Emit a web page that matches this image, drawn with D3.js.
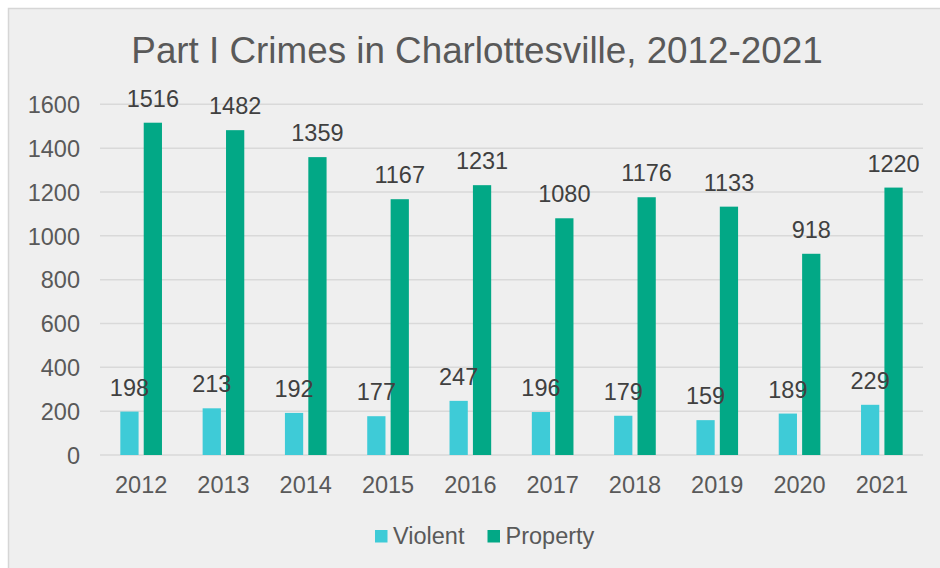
<!DOCTYPE html>
<html>
<head>
<meta charset="utf-8">
<script src="https://cdn.jsdelivr.net/npm/d3@7"></script>
<style>
  html, body { margin: 0; padding: 0; background: #ffffff; }
  svg { display: block; font-family: "Liberation Sans", Arial, sans-serif; }
</style>
</head>
<body>
<svg id="chart" width="940" height="568"></svg>
<script>
// Part I crimes reported in Charlottesville by year
const years = ["2012", "2013", "2014", "2015", "2016", "2017", "2018", "2019", "2020", "2021"];
const violent = [198, 213, 192, 177, 247, 196, 179, 159, 189, 229];
const property = [1516, 1482, 1359, 1167, 1231, 1080, 1176, 1133, 918, 1220];
const seriesNames = ["Violent", "Property"];
const seriesColors = ["#3ecbd7", "#02a886"];
const yTicks = [0, 200, 400, 600, 800, 1000, 1200, 1400, 1600];

const rows = years.map((y, i) => ({ year: y, values: [violent[i], property[i]] }));

const svg = d3.select("#chart");
const labelSize = 23.5;

// chart frame
svg.append("rect")
  .attr("x", 8.5).attr("y", 8.5)
  .attr("width", 940).attr("height", 570)
  .attr("fill", "#efefef")
  .attr("stroke", "#d6d6d6")
  .attr("stroke-width", 1.5);

// title
svg.append("text")
  .attr("x", 477).attr("y", 63)
  .attr("text-anchor", "middle")
  .attr("font-size", 36.8)
  .attr("fill", "#595959")
  .text("Part I Crimes in Charlottesville, 2012-2021");

const x0 = d3.scaleBand().domain(years).range([100, 923])
  .paddingInner(0.494).paddingOuter(0.247);
const x1 = d3.scaleBand().domain(seriesNames).range([0, x0.bandwidth()])
  .paddingInner(0.22).paddingOuter(0);
const y = d3.scaleLinear().domain([0, 1600]).range([455, 104.3]);

// gridlines
svg.append("g").selectAll("line").data(yTicks).join("line")
  .attr("x1", 100).attr("x2", 923)
  .attr("y1", d => y(d)).attr("y2", d => y(d))
  .attr("stroke", "#d9d9d9").attr("stroke-width", 1.5);

// y axis labels
const yAxis = svg.append("g")
  .attr("transform", "translate(80,0)")
  .call(d3.axisLeft(y).tickValues(yTicks).tickSize(0).tickPadding(0).tickFormat(d3.format("d")));
yAxis.select(".domain").remove();
yAxis.selectAll("text")
  .attr("font-size", labelSize).attr("fill", "#595959")
  .attr("font-family", "Liberation Sans, Arial, sans-serif")
  .attr("dy", "0.35em");

// x axis labels
const xAxis = svg.append("g")
  .attr("transform", "translate(0,455)")
  .call(d3.axisBottom(x0).tickSize(0).tickPadding(0));
xAxis.select(".domain").remove();
xAxis.selectAll("text")
  .attr("font-size", labelSize).attr("fill", "#595959")
  .attr("font-family", "Liberation Sans, Arial, sans-serif")
  .attr("y", 38).attr("dy", 0);

// bars
const groups = svg.append("g").selectAll("g").data(rows).join("g")
  .attr("transform", d => `translate(${x0(d.year)},0)`);

groups.selectAll("rect")
  .data(d => d.values.map((v, i) => ({ name: seriesNames[i], value: v, color: seriesColors[i] })))
  .join("rect")
  .attr("x", d => x1(d.name))
  .attr("width", x1.bandwidth())
  .attr("y", d => y(d.value))
  .attr("height", d => y(0) - y(d.value))
  .attr("fill", d => d.color);

// value labels
groups.selectAll("text.val")
  .data(d => d.values.map((v, i) => ({ name: seriesNames[i], value: v })))
  .join("text")
  .attr("class", "val")
  .attr("x", d => x1(d.name) + x1.bandwidth() / 2)
  .attr("y", d => y(d.value) - 16)
  .attr("text-anchor", "middle")
  .attr("font-size", labelSize)
  .attr("fill", "#404040")
  .text(d => d.value);

// legend
const legendItems = [
  { name: seriesNames[0], color: seriesColors[0], sx: 375, tx: 393 },
  { name: seriesNames[1], color: seriesColors[1], sx: 487.5, tx: 505.5 }
];
const legend = svg.append("g").selectAll("g").data(legendItems).join("g");
legend.append("rect")
  .attr("x", d => d.sx).attr("y", 530)
  .attr("width", 12.5).attr("height", 12.5)
  .attr("fill", d => d.color);
legend.append("text")
  .attr("x", d => d.tx).attr("y", 543.5)
  .attr("font-size", labelSize)
  .attr("fill", "#595959")
  .text(d => d.name);
</script>
</body>
</html>
